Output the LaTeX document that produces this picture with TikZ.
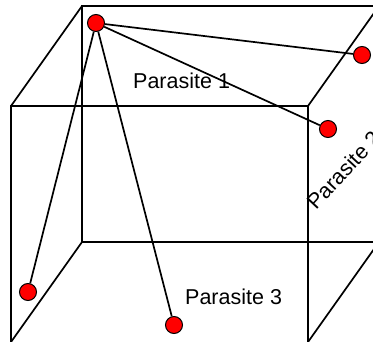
\documentclass[tikz,border=0pt]{standalone}
\usepackage{fontspec}
\setmainfont{Liberation Sans}
\begin{document}
\begin{tikzpicture}[x=1pt,y=-1pt,
  edge/.style={draw=black,line width=1.7pt},
  dot/.style={circle,fill=red,draw=black,line width=1pt,minimum size=17pt,inner sep=0pt},
  lbl/.style={font=\fontsize{21.5}{25}\selectfont,inner sep=0pt}]
\useasboundingbox (0,0) rectangle (373,341);
\clip (0,0) rectangle (373,341);
% cube corners
\coordinate (ftl) at (11,106);
\coordinate (ftr) at (308,106);
\coordinate (fbl) at (11,342);
\coordinate (fbr) at (308,342);
\coordinate (btl) at (82,6);
\coordinate (btr) at (379,6);
\coordinate (bbl) at (82,242);
\coordinate (bbr) at (379,242);
% back face
\draw[edge] (bbl) -- (btl) -- (btr) -- (bbr) -- cycle;
% front face
\draw[edge] (fbl) -- (ftl) -- (ftr) -- (fbr);
% depth edges
\draw[edge] (ftl) -- (btl);
\draw[edge] (ftr) -- (btr);
\draw[edge] (fbl) -- (bbl);
\draw[edge] (fbr) -- (bbr);
% labels
\node[lbl,anchor=base west] (l1) at (133,88) {Parasite 1};
\node[lbl,anchor=base west] (l3) at (185,304) {Parasite 3};
\node[lbl,anchor=base west,rotate=47] (l2) at (316,211) {Parasite 2};
% dots
\node[dot] (a) at (96,23) {};
\node[dot] (b) at (362,55) {};
\node[dot] (c) at (328,129) {};
\node[dot] (d) at (28,292) {};
\node[dot] (e) at (174,325) {};
\draw[edge] (a) -- (b);
\draw[edge] (a) -- (c);
\draw[edge] (a) -- (d);
\draw[edge] (a) -- (e);
\end{tikzpicture}
\end{document}
